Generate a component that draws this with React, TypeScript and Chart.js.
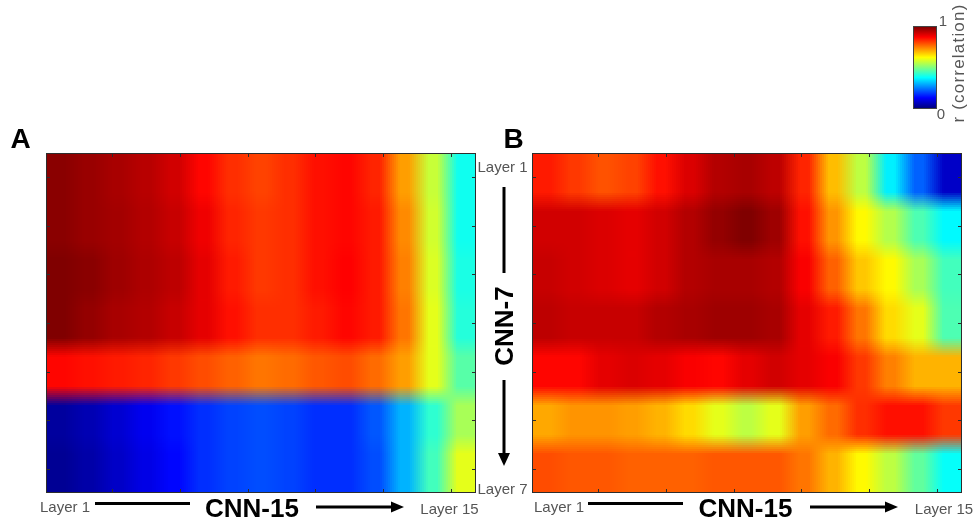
import React, { useEffect, useRef } from "react";
import { Chart, registerables } from "chart.js";
Chart.register(...registerables);

// CNN-15 layers (columns) and CNN-7 layers (rows)
const cnn15Layers = ["Layer 1","Layer 2","Layer 3","Layer 4","Layer 5","Layer 6","Layer 7","Layer 8","Layer 9","Layer 10","Layer 11","Layer 12","Layer 13","Layer 14","Layer 15"];
const cnn7Layers = ["Layer 1","Layer 2","Layer 3","Layer 4","Layer 5","Layer 6","Layer 7"];

// Panel A correlation values (rows = layers top→bottom, cols = CNN-15 layers)
const corrA: number[][] = [
  [0.99,0.975,0.96,0.945,0.92,0.87,0.83,0.81,0.83,0.86,0.87,0.84,0.72,0.57,0.39],
  [0.99,0.975,0.965,0.95,0.93,0.89,0.84,0.82,0.83,0.86,0.87,0.85,0.74,0.58,0.39],
  [1.0,0.99,0.97,0.955,0.94,0.90,0.85,0.82,0.83,0.86,0.875,0.85,0.75,0.59,0.40],
  [1.0,0.98,0.96,0.95,0.93,0.90,0.86,0.83,0.83,0.85,0.87,0.85,0.76,0.60,0.41],
  [0.87,0.86,0.85,0.84,0.82,0.80,0.78,0.76,0.77,0.79,0.80,0.77,0.72,0.60,0.46],
  [0.03,0.05,0.08,0.11,0.14,0.17,0.19,0.20,0.19,0.17,0.17,0.21,0.30,0.42,0.54],
  [0.02,0.04,0.07,0.10,0.13,0.17,0.19,0.20,0.19,0.17,0.17,0.20,0.30,0.44,0.60],
];

// Panel B correlation values (rows = CNN-7 layers, cols = CNN-15 layers)
const corrB: number[][] = [
  [0.85,0.82,0.795,0.81,0.86,0.91,0.95,0.96,0.94,0.84,0.69,0.56,0.36,0.22,0.07],
  [0.92,0.92,0.91,0.90,0.92,0.95,0.98,1.0,0.97,0.86,0.73,0.63,0.55,0.45,0.37],
  [0.93,0.92,0.91,0.90,0.92,0.95,0.96,0.96,0.95,0.88,0.78,0.68,0.63,0.54,0.44],
  [0.94,0.93,0.93,0.93,0.95,0.96,0.97,0.97,0.96,0.90,0.85,0.76,0.66,0.60,0.45],
  [0.87,0.87,0.90,0.91,0.90,0.88,0.87,0.90,0.92,0.90,0.88,0.82,0.75,0.70,0.70],
  [0.71,0.73,0.73,0.72,0.70,0.66,0.60,0.56,0.60,0.72,0.77,0.83,0.86,0.86,0.82],
  [0.80,0.79,0.79,0.78,0.78,0.78,0.79,0.79,0.79,0.76,0.70,0.63,0.56,0.47,0.38],
];

// tick mark positions (in layer units)
const xTickPositions = [2.8, 5.16, 7.53, 9.89, 12.26, 14.62];
const yTickPositions = [1, 2, 3, 4, 5, 6, 7];

const FONT = '"Liberation Sans", Arial, Helvetica, sans-serif';

function jet(v: number): number[] {
  const c = (z: number) => Math.max(0, Math.min(1, z));
  return [c(1.5 - Math.abs(4 * v - 3)), c(1.5 - Math.abs(4 * v - 2)), c(1.5 - Math.abs(4 * v - 1))].map((z) => z * 255);
}

function interpIdx(v: number, n: number, s: number): [number, number, number] {
  const u = Math.max(1, Math.min(n, v));
  let i0 = Math.floor(u);
  if (i0 >= n) i0 = n - 1;
  const t = u - i0;
  const w = Math.max(0, Math.min(1, (t - 0.5) / s + 0.5));
  return [i0 - 1, i0, w];
}

const heatmapPlugin = {
  id: "heatmap",
  beforeDatasetsDraw(chart: any) {
    const { ctx, chartArea: a, scales } = chart;
    const xs = scales.x, ys = scales.y;
    const pts = chart.data.datasets[0].data as { x: number; y: number; v: number }[];
    const nx = cnn15Layers.length, ny = cnn7Layers.length;
    const grid: number[][][] = [];
    pts.forEach((p) => {
      if (!grid[p.y - 1]) grid[p.y - 1] = [];
      grid[p.y - 1][p.x - 1] = jet(p.v);
    });
    const step = 2;
    ctx.save();
    for (let py = a.top; py < a.bottom; py += step) {
      const vy = ys.getValueForPixel(py + step / 2);
      const [r0, r1, wy] = interpIdx(vy, ny, 0.4);
      for (let px = a.left; px < a.right; px += step) {
        const vx = xs.getValueForPixel(px + step / 2);
        const [c0, c1, wx] = interpIdx(vx, nx, 0.7);
        const col = [0, 1, 2].map((k) => {
          const top = grid[r0][c0][k] * (1 - wx) + grid[r0][c1][k] * wx;
          const bot = grid[r1][c0][k] * (1 - wx) + grid[r1][c1][k] * wx;
          return Math.round(top * (1 - wy) + bot * wy);
        });
        ctx.fillStyle = `rgb(${col[0]},${col[1]},${col[2]})`;
        ctx.fillRect(px, py, Math.min(step, a.right - px), Math.min(step, a.bottom - py));
      }
    }
    ctx.restore();
  },
  afterDatasetsDraw(chart: any) {
    const { ctx, chartArea: a, scales } = chart;
    ctx.save();
    ctx.strokeStyle = "#2d2d2d";
    ctx.lineWidth = 1;
    ctx.strokeRect(a.left + 0.5, a.top + 0.5, a.width - 1, a.height - 1);
    ctx.beginPath();
    xTickPositions.forEach((t) => {
      const px = Math.round(scales.x.getPixelForValue(t)) + 0.5;
      ctx.moveTo(px, a.top); ctx.lineTo(px, a.top + 4);
      ctx.moveTo(px, a.bottom); ctx.lineTo(px, a.bottom - 4);
    });
    yTickPositions.forEach((t) => {
      const py = Math.round(scales.y.getPixelForValue(t)) + 0.5;
      ctx.moveTo(a.left, py); ctx.lineTo(a.left + 4, py);
      ctx.moveTo(a.right, py); ctx.lineTo(a.right - 4, py);
    });
    ctx.stroke();
    ctx.restore();
  },
};

function Heatmap({ values, left, top }: { values: number[][]; left: number; top: number }) {
  const ref = useRef<HTMLCanvasElement | null>(null);
  useEffect(() => {
    if (!ref.current) return;
    const points: { x: number; y: number; v: number }[] = [];
    cnn7Layers.forEach((_, r) => cnn15Layers.forEach((__, c) => points.push({ x: c + 1, y: r + 1, v: values[r][c] })));
    const chart = new Chart(ref.current, {
      type: "scatter",
      data: { datasets: [{ data: points as any, pointRadius: 0, pointHoverRadius: 0 }] },
      options: {
        animation: false,
        responsive: false,
        devicePixelRatio: 1,
        events: [],
        layout: { padding: 5 },
        plugins: { legend: { display: false }, tooltip: { enabled: false } },
        scales: {
          x: { type: "linear", min: 0.5, max: 15.5, display: false },
          y: { type: "linear", min: 0.5, max: 7.5, reverse: true, display: false },
        },
      },
      plugins: [heatmapPlugin as any],
    });
    return () => chart.destroy();
  }, [values]);
  return (
    <canvas
      ref={ref}
      width={440}
      height={350}
      style={{ position: "absolute", left, top, width: 440, height: 350 }}
    />
  );
}

function Label({ x, y, text, size, bold, color, rotate, spacing }: { x: number; y: number; text: string; size: number; bold?: boolean; color?: string; rotate?: boolean; spacing?: number }) {
  return (
    <div
      style={{
        position: "absolute",
        left: x,
        top: y,
        transform: `translate(-50%, -50%)${rotate ? " rotate(-90deg)" : ""}`,
        fontFamily: FONT,
        fontSize: size,
        fontWeight: bold ? "bold" : "normal",
        color: color || "#000",
        lineHeight: 1,
        letterSpacing: spacing ? `${spacing}px` : undefined,
        whiteSpace: "nowrap",
      }}
    >
      {text}
    </div>
  );
}

export default function App() {
  const grey = "#555";
  return (
    <div style={{ position: "absolute", left: 0, top: 0, width: 976, height: 525, background: "#fff", overflow: "hidden" }}>
      <Heatmap values={corrA} left={41} top={148} />
      <Heatmap values={corrB} left={527} top={148} />

      <svg width={976} height={525} style={{ position: "absolute", left: 0, top: 0 }}>
        {/* Panel A x annotation */}
        <line x1={95} y1={503.5} x2={190} y2={503.5} stroke="#000" strokeWidth={3} />
        <line x1={316} y1={507} x2={392} y2={507} stroke="#000" strokeWidth={3} />
        <polygon points="391,501.5 404,507 391,512.5" fill="#000" />
        {/* Panel B x annotation */}
        <line x1={588} y1={503.5} x2={683} y2={503.5} stroke="#000" strokeWidth={3} />
        <line x1={810} y1={507} x2={886} y2={507} stroke="#000" strokeWidth={3} />
        <polygon points="885,501.5 898,507 885,512.5" fill="#000" />
        {/* vertical CNN-7 annotation */}
        <line x1={504} y1={187} x2={504} y2={273} stroke="#000" strokeWidth={3} />
        <line x1={504} y1={380} x2={504} y2={455} stroke="#000" strokeWidth={3} />
        <polygon points="498,453 510,453 504,466" fill="#000" />
      </svg>

      <Label x={20.5} y={139} text="A" size={28} bold />
      <Label x={513.5} y={139} text="B" size={28} bold />

      <Label x={65} y={506} text={cnn15Layers[0]} size={15} color={grey} />
      <Label x={252} y={507.5} text="CNN-15" size={26} bold />
      <Label x={449.5} y={508} text={cnn15Layers[14]} size={15} color={grey} />

      <Label x={559} y={506} text={cnn15Layers[0]} size={15} color={grey} />
      <Label x={745.5} y={507.5} text="CNN-15" size={26} bold />
      <Label x={944} y={508} text={cnn15Layers[14]} size={15} color={grey} />

      <Label x={502.5} y={166} text={cnn7Layers[0]} size={15} color={grey} />
      <Label x={502.5} y={488} text={cnn7Layers[6]} size={15} color={grey} />
      <Label x={504} y={326} text="CNN-7" size={26} bold rotate />

      {/* colorbar */}
      <div
        style={{
          position: "absolute",
          left: 913,
          top: 26,
          width: 22,
          height: 81,
          border: "1px solid #444",
          background: "linear-gradient(to bottom, #800000 0%, #ff0000 12.5%, #ffff00 37.5%, #00ffff 62.5%, #0000ff 87.5%, #000080 100%)",
        }}
      />
      <Label x={943} y={20} text="1" size={15} color={grey} />
      <Label x={941} y={113} text="0" size={15} color={grey} />
      <Label x={958} y={63} text="r (correlation)" size={17} color={grey} rotate spacing={1.2} />
    </div>
  );
}
